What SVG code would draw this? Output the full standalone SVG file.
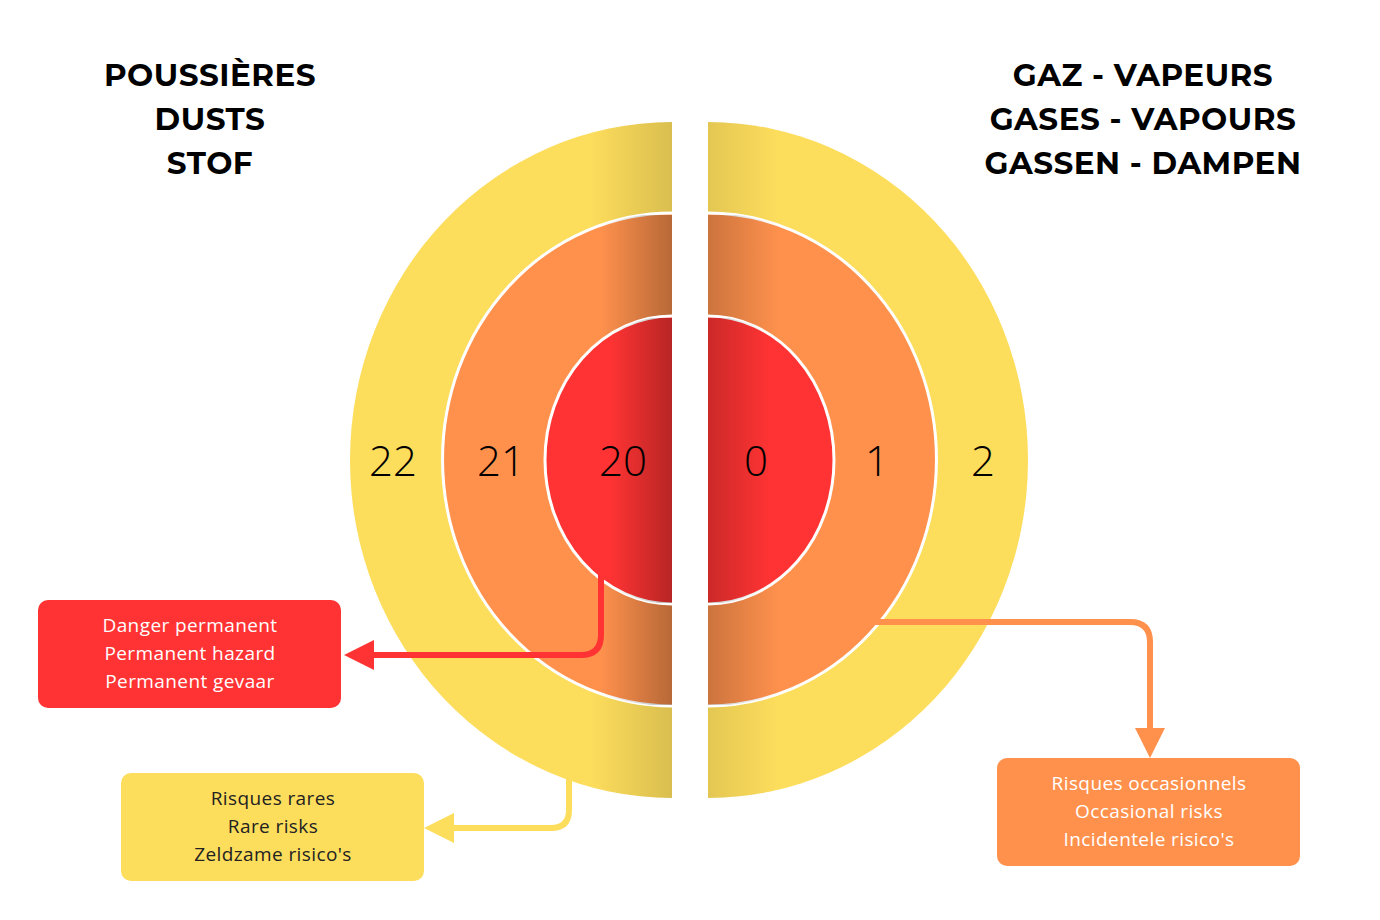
<svg xmlns="http://www.w3.org/2000/svg" width="1380" height="920" viewBox="0 0 1380 920">
<style>
.t{font-family:"Montserrat","Open Sans","Liberation Sans",sans-serif;font-weight:700;font-size:31px;fill:#000;text-anchor:middle;letter-spacing:0.5px}
.n{font-family:"Open Sans","Liberation Sans",sans-serif;font-weight:300;font-size:42px;fill:#000;text-anchor:middle}
.l{font-family:"Open Sans","Liberation Sans",sans-serif;font-size:19px;text-anchor:middle;letter-spacing:0.4px}
.ring{stroke:#fff;stroke-width:3}
</style>
<defs>
<linearGradient id="shL" x1="0" x2="1"><stop offset="0" stop-color="#000" stop-opacity="0"/><stop offset="1" stop-color="#000" stop-opacity="0.28"/></linearGradient>
<linearGradient id="shR" x1="1" x2="0"><stop offset="0" stop-color="#000" stop-opacity="0"/><stop offset="1" stop-color="#000" stop-opacity="0.2"/></linearGradient>
<clipPath id="cL1"><path d="M672,122 A322,338 0 0 0 672,798 Z"/></clipPath>
<clipPath id="cL2"><path d="M672,213 A229,246 0 0 0 672,706 Z"/></clipPath>
<clipPath id="cL3"><path d="M672,316 A127,144 0 0 0 672,604 Z"/></clipPath>
<clipPath id="cR1"><path d="M708,122 A320,338 0 0 1 708,798 Z"/></clipPath>
<clipPath id="cR2"><path d="M708,213 A228,246 0 0 1 708,706 Z"/></clipPath>
<clipPath id="cR3"><path d="M708,316 A126,144 0 0 1 708,604 Z"/></clipPath>
<marker id="aRed" viewBox="0 0 10 10" refX="4" refY="5" markerWidth="5" markerHeight="5" orient="auto"><path d="M0,0L10,5L0,10z" fill="#ff3333"/></marker>
<marker id="aYel" viewBox="0 0 10 10" refX="4" refY="5" markerWidth="5" markerHeight="5" orient="auto"><path d="M0,0L10,5L0,10z" fill="#fddd5c"/></marker>
<marker id="aOr" viewBox="0 0 10 10" refX="4" refY="5" markerWidth="5" markerHeight="5" orient="auto"><path d="M0,0L10,5L0,10z" fill="#ff914d"/></marker>
</defs>
<rect width="1380" height="920" fill="#fff"/>
<g id="titles">
<text class="t" x="210" y="86">POUSSIÈRES</text>
<text class="t" x="210" y="130">DUSTS</text>
<text class="t" x="210" y="174">STOF</text>
<text class="t" x="1143" y="86">GAZ - VAPEURS</text>
<text class="t" x="1143" y="130">GASES - VAPOURS</text>
<text class="t" x="1143" y="174">GASSEN - DAMPEN</text>
</g>
<g id="left-zones">
<path d="M672,122 A322,338 0 0 0 672,798 Z" fill="#fddd5c"/>
<rect x="590" y="122" width="82" height="676" fill="url(#shL)" opacity="0.5" clip-path="url(#cL1)"/>
<path class="ring" d="M672,213 A229,246 0 0 0 672,706" fill="#ff914d"/>
<rect x="600" y="215" width="72" height="490" fill="url(#shL)" clip-path="url(#cL2)"/>
<path class="ring" d="M672,316 A127,144 0 0 0 672,604" fill="#ff3333"/>
<rect x="610" y="318" width="62" height="285" fill="url(#shL)" clip-path="url(#cL3)"/>
<text class="n" x="393" y="476">22</text>
<text class="n" x="501" y="476">21</text>
<text class="n" x="623" y="476">20</text>
</g>
<g id="right-zones">
<path d="M708,122 A320,338 0 0 1 708,798 Z" fill="#fddd5c"/>
<rect x="708" y="122" width="70" height="676" fill="url(#shR)" opacity="0.5" clip-path="url(#cR1)"/>
<path class="ring" d="M708,213 A228,246 0 0 1 708,706" fill="#ff914d"/>
<rect x="708" y="215" width="72" height="490" fill="url(#shR)" clip-path="url(#cR2)"/>
<path class="ring" d="M708,316 A126,144 0 0 1 708,604" fill="#ff3333"/>
<rect x="708" y="318" width="62" height="285" fill="url(#shR)" clip-path="url(#cR3)"/>
<text class="n" x="756" y="476">0</text>
<text class="n" x="877" y="476">1</text>
<text class="n" x="983" y="476">2</text>
</g>
<g id="connectors" fill="none" stroke-width="6" stroke-linecap="round">
<path d="M601,570 V635 Q601,655 581,655 H362" stroke="#ff3333" marker-end="url(#aRed)"/>
<path d="M569,775 V810 Q569,828 551,828 H442" stroke="#fddd5c" marker-end="url(#aYel)"/>
<path d="M870,622 H1130 Q1150,622 1150,642 V740" stroke="#ff914d" marker-end="url(#aOr)"/>
</g>
<g id="box-red">
<rect x="38" y="600" width="303" height="108" rx="10" fill="#ff3333"/>
<text class="l" fill="#fff" x="190" y="632">Danger permanent</text>
<text class="l" fill="#fff" x="190" y="660">Permanent hazard</text>
<text class="l" fill="#fff" x="190" y="688">Permanent gevaar</text>
</g>
<g id="box-yellow">
<rect x="121" y="773" width="303" height="108" rx="10" fill="#fddd5c"/>
<text class="l" fill="#222" x="273" y="805">Risques rares</text>
<text class="l" fill="#222" x="273" y="833">Rare risks</text>
<text class="l" fill="#222" x="273" y="861">Zeldzame risico's</text>
</g>
<g id="box-orange">
<rect x="997" y="758" width="303" height="108" rx="10" fill="#ff914d"/>
<text class="l" fill="#fff" x="1149" y="790">Risques occasionnels</text>
<text class="l" fill="#fff" x="1149" y="818">Occasional risks</text>
<text class="l" fill="#fff" x="1149" y="846">Incidentele risico's</text>
</g>
</svg>
